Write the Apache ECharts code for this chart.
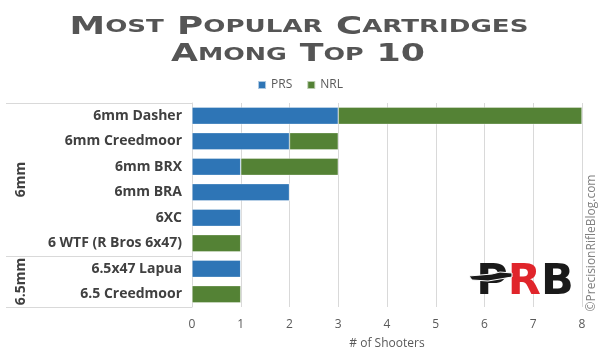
<!DOCTYPE html>
<html><head><meta charset="utf-8">
<script src="https://cdn.jsdelivr.net/npm/echarts@6/dist/echarts.min.js"></script>
<style>html,body{margin:0;padding:0;background:#fff}#c{width:600px;height:355px}</style>
</head><body><div id="c"></div>
<script>
const categories = ['6mm Dasher','6mm Creedmoor','6mm BRX','6mm BRA','6XC','6 WTF (R Bros 6x47)','6.5x47 Lapua','6.5 Creedmoor'];
const groups = [{name:'6mm', count:6},{name:'6.5mm', count:2}];
const prs = [3,2,1,2,1,0,1,0];
const nrl = [5,1,2,0,0,1,0,1];
const xTicks = [0,1,2,3,4,5,6,7,8];
const seriesNames = ['PRS','NRL'];

const chart = echarts.init(document.getElementById('c'), null, {renderer:'canvas'});
const labelFont = 'Open Sans';
const option = {
  animation:false,
  color:['#2E75B6','#548235'],
  legend:{
    data:seriesNames, top:74, left:'center', itemWidth:8, itemHeight:8, itemGap:14,
    icon:'rect', textStyle:{color:'#595959', fontSize:12, fontFamily:labelFont}
  },
  grid:{left:192, right:18, top:103, bottom:48, containLabel:false},
  xAxis:{
    type:'value', min:xTicks[0], max:xTicks[xTicks.length-1], interval:1,
    name:'# of Shooters', nameLocation:'middle', nameGap:31,
    nameTextStyle:{color:'#595959', fontSize:12, fontFamily:labelFont},
    axisLine:{show:false}, axisTick:{show:false},
    axisLabel:{color:'#595959', fontSize:12, fontFamily:labelFont, margin:12},
    splitLine:{show:true, lineStyle:{color:'#d9d9d9', width:1}}
  },
  yAxis:{
    type:'category', data:categories, inverse:true,
    axisLine:{show:true, lineStyle:{color:'#d9d9d9'}}, axisTick:{show:false},
    axisLabel:{color:'#404040', fontSize:14, fontWeight:'bold', fontFamily:labelFont, margin:10}
  },
  series:[
    {name:seriesNames[0], type:'bar', stack:'t', data:prs, barCategoryGap:'32%',
     itemStyle:{borderColor:'rgba(255,255,255,0.6)', borderWidth:0.6}},
    {name:seriesNames[1], type:'bar', stack:'t', data:nrl, barCategoryGap:'32%',
     itemStyle:{borderColor:'rgba(255,255,255,0.6)', borderWidth:0.6}}
  ]
};
chart.setOption(option);

// group decorations computed from the axis
const yc = i => chart.convertToPixel({yAxisIndex:0}, i);
const band = yc(1) - yc(0);
const axisX = chart.convertToPixel({xAxisIndex:0}, 0);
const g = [];
let start = 0;
const lineStyle = {stroke:'#d9d9d9', lineWidth:1};
g.push({type:'line', shape:{x1:6, y1:Math.round(yc(0)-band/2)+0.5, x2:axisX, y2:Math.round(yc(0)-band/2)+0.5}, style:lineStyle, silent:true});
groups.forEach(gr => {
  const end = start + gr.count - 1;
  const yTop = yc(start) - band/2, yBot = yc(end) + band/2;
  g.push({type:'line', shape:{x1:6, y1:Math.round(yBot)+0.5, x2:axisX, y2:Math.round(yBot)+0.5}, style:lineStyle, silent:true});
  g.push({type:'text', x:21, y:(yTop+yBot)/2, rotation:Math.PI/2,
    style:{text:gr.name, fill:'#404040', font:'bold 14px "Open Sans"', textAlign:'center', textVerticalAlign:'middle'}});
  start = end + 1;
});
// title
const tc = '#555555';
const titleRich = {b:{fontSize:24, fontWeight:'bold', fontFamily:'DejaVu Sans', fill:tc, color:tc},
                   s:{fontSize:17.5, fontWeight:'bold', fontFamily:'DejaVu Sans', fill:tc, color:tc},
                   sp:{fontSize:28, fontFamily:'DejaVu Sans', fill:tc, color:tc}};
g.push({type:'text', x:299, y:27.5, scaleX:1.49, scaleY:1,
  style:{text:'{b|M}{s|OST}{sp| }{b|P}{s|OPULAR}{sp| }{b|C}{s|ARTRIDGES}', textAlign:'center', textVerticalAlign:'middle', rich:titleRich}});
g.push({type:'text', x:298, y:55, scaleX:1.45, scaleY:1,
  style:{text:'{b|A}{s|MONG}{sp| }{b|T}{s|OP}{sp| }{b|10}', textAlign:'center', textVerticalAlign:'middle', rich:titleRich}});
// watermark
g.push({type:'text', x:592, y:243, rotation:Math.PI/2,
  style:{text:'©PrecisionRifleBlog.com', fill:'#808080', font:'12px "Open Sans"', textAlign:'center', textVerticalAlign:'middle'}});
// logo
g.push({type:'text', x:525, y:283, scaleX:1.0,
  style:{text:'{k|P}{r|R}{k|B}', textAlign:'center', textVerticalAlign:'middle',
    rich:{k:{fontSize:43, fontWeight:'900', fontFamily:'DejaVu Sans', fill:'#1a1a1a', color:'#1a1a1a'},
          r:{fontSize:43, fontWeight:'900', fontFamily:'DejaVu Sans', fill:'#e0252b', color:'#e0252b'}}}});
g.push({type:'polygon', shape:{points:[[469,276],[492,274],[500,272],[512,273],[512,277],[500,279],[488,281],[472,280]]},
  style:{fill:'#1a1a1a', stroke:'#fff', lineWidth:1}, silent:true});
chart.setOption({graphic:g});
</script></body></html>
